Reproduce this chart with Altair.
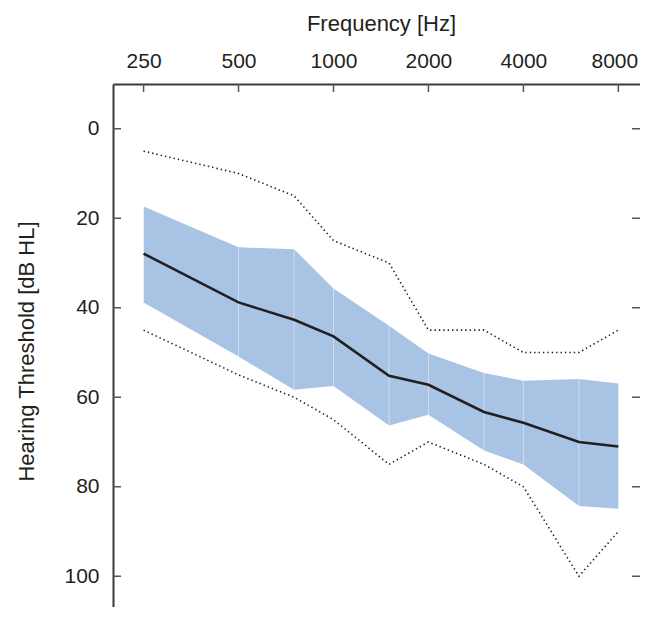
import altair as alt
import pandas as pd

# ---- data ----
freqs = [250, 500, 750, 1000, 1500, 2000, 3000, 4000, 6000, 8000]
median = [27.9, 38.8, 42.7, 46.4, 55.2, 57.2, 63.3, 65.7, 70.0, 71.0]
q_low_db = [17.4, 26.5, 26.9, 35.7, 44.0, 50.2, 54.6, 56.3, 55.9, 56.9]
q_high_db = [38.8, 50.9, 58.3, 57.5, 66.3, 63.9, 71.9, 75.0, 84.3, 84.9]
min_db = [5, 10, 15, 25, 30, 45, 45, 50, 50, 45]
max_db = [45, 55, 60, 65, 75, 70, 75, 80, 100, 90]

x_ticks = [250, 500, 1000, 2000, 4000, 8000]
y_ticks = [0, 20, 40, 60, 80, 100]

df = pd.DataFrame({
    "freq": freqs, "median": median, "qlo": q_low_db, "qhi": q_high_db,
    "mn": min_db, "mx": max_db,
})
df_xt = pd.DataFrame({"freq": x_ticks})
df_yt = pd.DataFrame({"db": y_ticks})

FONT = "Liberation Sans"
TXT = "#231f20"
AX = "#3a3a3a"
W, H = 527, 537

xscale = alt.Scale(type="log", domain=[200, 9370], nice=False, zero=False)
yscale = alt.Scale(domain=[-10, 110], reverse=True, nice=False, zero=False)

xaxis = alt.Axis(orient="top", values=x_ticks, format="d", ticks=False, tickSize=0,
                 grid=False, domainColor=AX, domainWidth=2,
                 labelFont=FONT, labelFontSize=21, labelColor=TXT,
                 labelPadding=17, labelBaseline="alphabetic",
                 labelOffset={"condition": {"test": "datum.value == 8000", "value": -4}, "value": 0},
                 title="Frequency [Hz]", titleFont=FONT, titleFontSize=22,
                 titleFontWeight="normal", titleColor=TXT,
                 titleBaseline="alphabetic", titleY=-54, titleX=268)
yaxis = alt.Axis(orient="left", values=y_ticks, ticks=False, tickSize=0,
                 grid=False, domainColor=AX, domainWidth=2,
                 labelFont=FONT, labelFontSize=21, labelColor=TXT,
                 labelPadding=14,
                 title="Hearing Threshold [dB HL]", titleFont=FONT,
                 titleFontSize=22, titleFontWeight="normal", titleColor=TXT,
                 titleAngle=270, titleBaseline="alphabetic",
                 titleX=-80, titleY=267, titleAlign="center")

X = alt.X("freq:Q", scale=xscale, axis=xaxis)

def Y(field):
    return alt.Y(f"{field}:Q", scale=yscale, axis=yaxis)

base = alt.Chart(df)

band = base.mark_area(color="#a9c3e5", opacity=1).encode(
    x=X, y=Y("qlo"), y2="qhi")
seams = base.mark_rule(color="white", opacity=0.45, strokeWidth=1).transform_filter(
    alt.datum.freq < 8000).encode(x=X, y=Y("qlo"), y2="qhi")
dot_min = base.mark_line(color=TXT, strokeWidth=1.6, strokeDash=[1.4, 3]).encode(
    x=X, y=Y("mn"))
dot_max = base.mark_line(color=TXT, strokeWidth=1.6, strokeDash=[1.4, 3]).encode(
    x=X, y=Y("mx"))
med = base.mark_line(color=TXT, strokeWidth=2.6).encode(x=X, y=Y("median"))

top_ticks = alt.Chart(df_xt).mark_rule(color="#555555", strokeWidth=1.5).encode(
    x=X, y=alt.value(0), y2=alt.value(8))
left_ticks = alt.Chart(df_yt).mark_rule(color="#555555", strokeWidth=1.5).encode(
    y=Y("db"), x=alt.value(0), x2=alt.value(8))
right_ticks = alt.Chart(df_yt).mark_rule(color="#555555", strokeWidth=1.5).encode(
    y=Y("db"), x=alt.value(W - 8), x2=alt.value(W))

chart = alt.layer(band, seams, dot_min, dot_max, med, top_ticks, left_ticks, right_ticks).properties(
    width=W, height=H,
    autosize=alt.AutoSizeParams(type="none"),
    padding={"left": 105, "top": 76, "right": 0, "bottom": -14},
).configure_view(stroke=None).configure(background="white")

chart.save("out.html", embed_options={"renderer": "svg", "actions": False})
